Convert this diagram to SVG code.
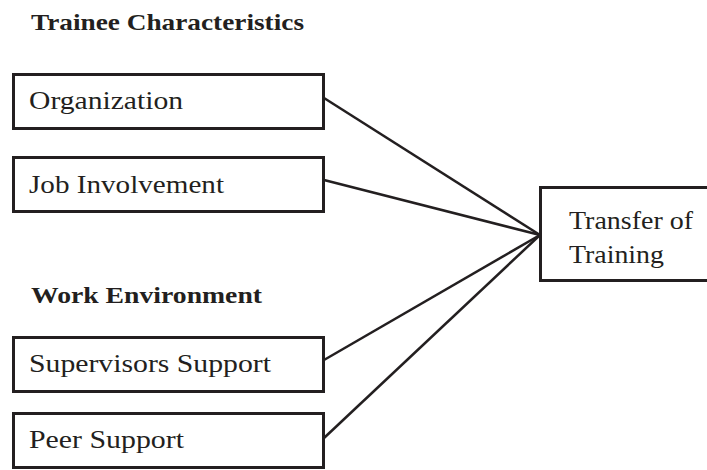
<svg xmlns="http://www.w3.org/2000/svg" width="707" height="470" viewBox="0 0 707 470">
<style>
.box{fill:#fff;stroke:#231f20;stroke-width:3}
.t{font-family:"Liberation Serif",serif;font-size:26px;fill:#231f20}
.h{font-family:"Liberation Serif",serif;font-size:24px;font-weight:bold;fill:#231f20}
.c{stroke:#231f20;stroke-width:2.5;fill:none}
</style>
<rect width="707" height="470" fill="#fff"/>
<text class="h" x="31" y="30" textLength="273" lengthAdjust="spacingAndGlyphs">Trainee Characteristics</text>
<text class="h" x="31" y="303" textLength="231" lengthAdjust="spacingAndGlyphs">Work Environment</text>
<g id="connectors">
<line class="c" x1="324" y1="98" x2="540" y2="235"/>
<line class="c" x1="324" y1="180" x2="540" y2="235"/>
<line class="c" x1="324" y1="360" x2="540" y2="235"/>
<line class="c" x1="324" y1="438" x2="540" y2="235"/>
</g>
<g id="organization">
<rect class="box" x="13.5" y="74.5" width="310" height="54"/>
<text class="t" x="29" y="109" textLength="154" lengthAdjust="spacingAndGlyphs">Organization</text>
</g>
<g id="job">
<rect class="box" x="13.5" y="157.5" width="310" height="54"/>
<text class="t" x="29" y="193" textLength="195" lengthAdjust="spacingAndGlyphs">Job Involvement</text>
</g>
<g id="supervisors">
<rect class="box" x="13.5" y="337.5" width="310" height="54"/>
<text class="t" x="29" y="372" textLength="242" lengthAdjust="spacingAndGlyphs">Supervisors Support</text>
</g>
<g id="peer">
<rect class="box" x="13.5" y="413.5" width="310" height="54"/>
<text class="t" x="29" y="448" textLength="155" lengthAdjust="spacingAndGlyphs">Peer Support</text>
</g>
<g id="transfer">
<rect class="box" x="540.5" y="187.5" width="170" height="93"/>
<text class="t" x="569" y="229" textLength="124" lengthAdjust="spacingAndGlyphs">Transfer of</text>
<text class="t" x="569" y="263" textLength="95" lengthAdjust="spacingAndGlyphs">Training</text>
</g>
</svg>
